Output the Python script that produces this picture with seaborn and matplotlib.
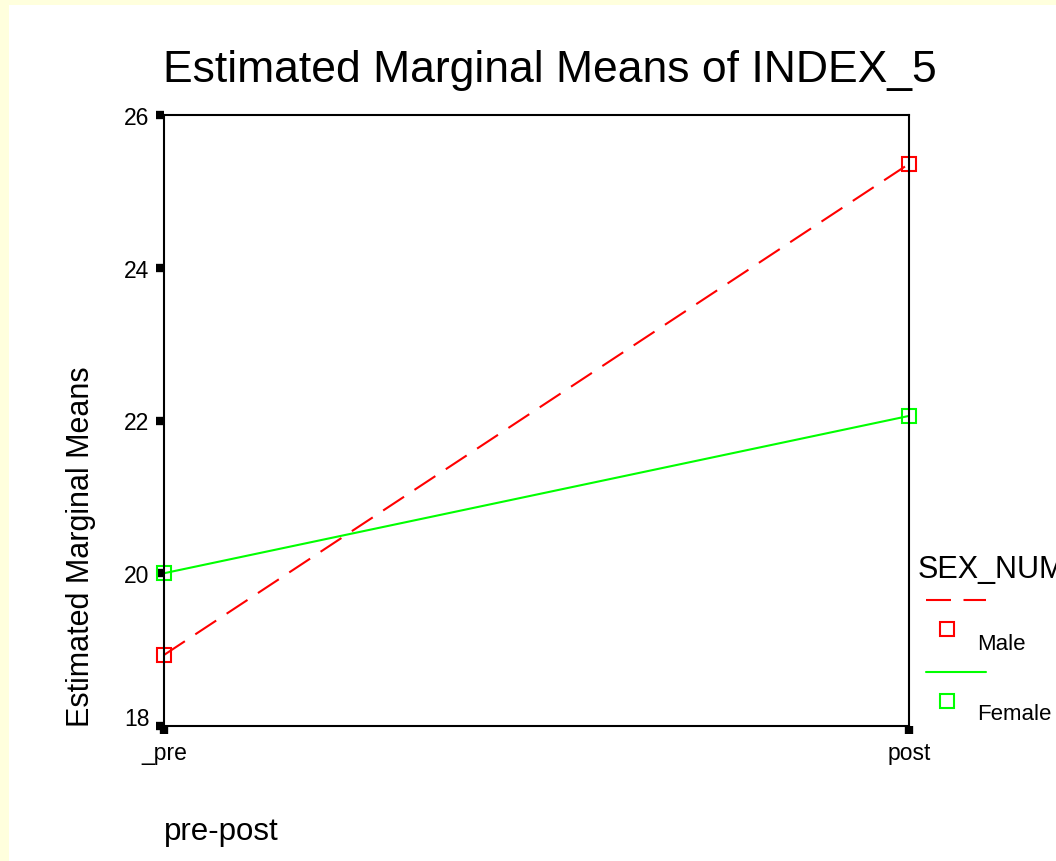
import matplotlib
matplotlib.use("Agg")
import matplotlib.pyplot as plt
from matplotlib.lines import Line2D
from matplotlib.patches import Rectangle
from matplotlib.transforms import ScaledTranslation
import seaborn as sns
import pandas as pd

# values
time_labels = ["_pre", "post"]
sex_groups = ["Male", "Female"]
male_means = [18.93, 25.36]
female_means = [20.0, 22.06]
y_ticks = [18, 20, 22, 24, 26]

colors = {"Male": "#FF0000", "Female": "#00FF00"}
dash_styles = {"Male": (12, 6), "Female": ""}

df = pd.DataFrame({
    "time": time_labels * 2,
    "SEX_NUM": ["Male"] * 2 + ["Female"] * 2,
    "mean": male_means + female_means,
})
df["x"] = df["time"].map({t: i for i, t in enumerate(time_labels)})

sns.set_style("white")
plt.rcParams["font.family"] = ["Liberation Sans", "DejaVu Sans"]
plt.rcParams["text.color"] = "black"
plt.rcParams["axes.labelcolor"] = "black"
plt.rcParams["xtick.color"] = "black"
plt.rcParams["ytick.color"] = "black"

W, H = 1056, 862
fig = plt.figure(figsize=(W / 100, H / 100), dpi=100, facecolor="#FFFFDD")
fig.patches.append(Rectangle((9 / W, 0), 1, 1 - 6 / H, transform=fig.transFigure,
                             facecolor="white", edgecolor="none", zorder=-10))

ax = fig.add_axes([164 / W, 1 - 727 / H, (909 - 164) / W, (727 - 116) / H])
sns.lineplot(data=df, x="x", y="mean", hue="SEX_NUM", style="SEX_NUM",
             hue_order=sex_groups, style_order=sex_groups,
             palette=colors, dashes=dash_styles, markers={"Male": "s", "Female": "s"},
             linewidth=1.5, markersize=10, legend=False, ax=ax)
for line in ax.lines:
    line.set_markerfacecolor("none")
    line.set_markeredgecolor(line.get_color())
    line.set_markeredgewidth(1.5)
    line.set_clip_on(False)

ax.set_xlim(0, 1)
ax.set_ylim(18, 26)
ax.set_xticks(range(len(time_labels)))
ax.set_xticklabels(time_labels)
ax.set_yticks(y_ticks)
ax.tick_params(axis="both", which="major", bottom=True, left=True, direction="out",
               length=5.5, width=6, color="black", labelcolor="black",
               labelsize=16.5, pad=5)
for s in ax.spines.values():
    s.set_visible(True)
    s.set_color("black")
    s.set_linewidth(1.5)

# SPSS lifts the lowest y label off the corner
lab18 = ax.get_yticklabels()[0]
lab18.set_transform(lab18.get_transform() + ScaledTranslation(0, 10 / 100, fig.dpi_scale_trans))

ax.set_ylabel("Estimated Marginal Means", fontsize=22, loc="bottom")
ax.yaxis.set_label_coords(-0.091, 0)
ax.set_xlabel("pre-post", fontsize=22.5, loc="left")
ax.xaxis.set_label_coords(0, -0.148)

fig.text(550 / W, 1 - 82 / H, "Estimated Marginal Means of INDEX_5",
         fontsize=32, ha="center", va="baseline")

# SPSS style legend: line on one row, marker on the next
fig.text(918 / W, 1 - 578 / H, "SEX_NUM", fontsize=22, ha="left", va="baseline")
rows = [("Male", 601, 630, 645), ("Female", 673, 702, 715)]
for name, ly, my, ty in rows:
    fig.lines.append(Line2D([926 / W, 986 / W], [1 - ly / H, 1 - ly / H],
                            transform=fig.transFigure, color=colors[name],
                            linewidth=1.5, dashes=dash_styles[name] or (None, None)))
    fig.lines.append(Line2D([947 / W], [1 - my / H], transform=fig.transFigure,
                            marker="s", markersize=10, markerfacecolor="none",
                            markeredgecolor=colors[name], markeredgewidth=1.5,
                            linestyle="none"))
    fig.text(977 / W, 1 - ty / H, name, fontsize=16, ha="left", va="center")

fig.savefig("out.png", dpi=100, facecolor=fig.get_facecolor())
